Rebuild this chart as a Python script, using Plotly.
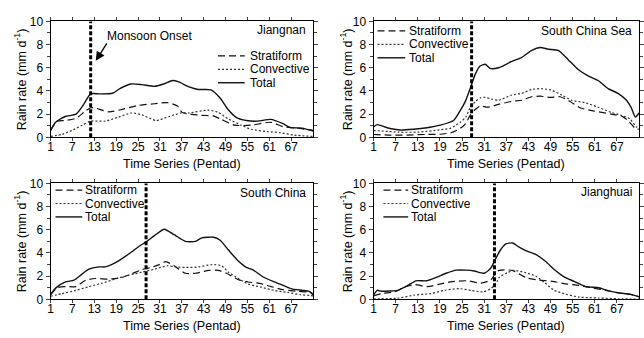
import plotly.graph_objects as go

# ---------------- data ----------------
regions = ["Jiangnan", "South China Sea", "South China", "Jianghuai"]
onset_pentad = [12, 27.6, 27.2, 33.8]

# Jiangnan
jn_tot_x = [1, 2.4, 5, 8, 10, 12, 14.5, 18, 20, 23, 26, 29.5, 32, 34.5, 36, 39, 41.5, 45, 47.5, 49.7, 52, 54.7, 57.8, 61.4, 64.6, 66.8, 70, 73]
jn_tot_y = [0.6, 1.3, 1.8, 2.0, 2.8, 3.75, 3.75, 3.8, 4.2, 4.6, 4.55, 4.4, 4.6, 4.9, 4.8, 4.35, 4.13, 4.1, 3.4, 2.4, 1.7, 1.45, 1.4, 1.55, 1.2, 0.85, 0.8, 0.55]
jn_str_x = [1, 2.8, 5, 8, 10.3, 12, 13, 17, 20.5, 25, 29.5, 33, 35.8, 37.1, 42.5, 45.6, 47.8, 51.5, 56, 61.4, 65, 68.6, 73]
jn_str_y = [0.6, 1.4, 1.45, 1.65, 2.2, 2.55, 2.55, 2.2, 2.4, 2.75, 2.9, 3.0, 2.7, 2.15, 1.9, 1.85, 1.55, 1.05, 1.05, 1.3, 0.9, 0.8, 0.6]
jn_con_x = [1, 4.2, 6.9, 9.7, 12, 16, 19.6, 23.2, 26, 30, 33.5, 36.7, 38.9, 44.3, 47, 49.7, 53.3, 56, 60.5, 64.1, 67.7, 73]
jn_con_y = [0.08, 0.27, 0.6, 1.05, 1.4, 1.4, 1.75, 2.1, 1.95, 1.45, 1.8, 2.1, 2.1, 2.35, 2.15, 1.6, 1.05, 0.7, 0.5, 0.4, 0.2, 0.08]

# South China Sea
scs_tot_x = [1, 2, 4.7, 8.3, 11.9, 15.5, 19.1, 22.7, 24.5, 25.9, 27.2, 28.6, 29.9, 31.3, 32.6, 34.9, 38.5, 41.2, 43.9, 46.2, 48.4, 51.1, 53.8, 56.5, 59.2, 61.9, 64.6, 67.3, 69.6, 70.9, 72, 73]
scs_tot_y = [0.9, 1.1, 0.83, 0.63, 0.7, 0.83, 1.05, 1.45, 2.3, 3.1, 4.2, 5.45, 6.15, 6.3, 5.95, 6.0, 6.55, 6.9, 7.5, 7.75, 7.6, 7.5, 6.7, 5.85, 5.3, 4.9, 4.2, 3.8, 3.2, 2.55, 1.75, 2.1]
scs_str_x = [1, 5, 10, 15, 19, 22, 24.5, 26, 27.2, 28.6, 30, 32, 34.9, 38.5, 41.2, 43.9, 46.2, 48.9, 51.6, 54.3, 57, 60.2, 62.9, 65.5, 68.2, 70, 72, 73]
scs_str_y = [0.25, 0.2, 0.2, 0.25, 0.27, 0.4, 0.77, 1.2, 1.9, 2.4, 2.7, 2.6, 2.85, 3.1, 3.2, 3.5, 3.55, 3.45, 3.5, 3.1, 2.55, 2.3, 2.15, 2.0, 1.85, 1.45, 0.77, 0.7]
scs_con_x = [1, 8, 13, 19, 22, 24.5, 26, 27.2, 28.6, 30, 31.3, 33, 34.9, 38.5, 41.2, 43.9, 46.6, 49.3, 52, 54.7, 58.3, 61.9, 65.5, 68.2, 70.5, 72.3, 73]
scs_con_y = [0.6, 0.45, 0.45, 0.65, 0.8, 1.3, 1.75, 2.55, 3.1, 3.4, 3.45, 3.3, 3.2, 3.65, 3.8, 4.13, 4.2, 4.07, 3.65, 3.2, 3.0, 2.6, 2.15, 1.9, 1.6, 0.9, 0.8]

# South China
sc_tot_x = [1, 2.4, 5.1, 7.4, 9.7, 11.5, 14.2, 16, 18.7, 21, 23.2, 25.4, 27.2, 29.5, 32.2, 34.5, 35.3, 38, 40.7, 42.5, 45.7, 47.5, 49.8, 52.5, 54.7, 56.5, 59.2, 62.4, 65.6, 67.4, 70.1, 71.9, 73]
sc_tot_y = [0.4, 0.97, 1.5, 1.65, 2.2, 2.6, 2.8, 2.8, 3.15, 3.6, 4.08, 4.6, 4.95, 5.5, 6.05, 5.65, 5.5, 5.0, 5.0, 5.3, 5.35, 5.1, 4.25, 3.3, 2.75, 2.55, 1.95, 1.5, 1.1, 0.88, 0.78, 0.69, 0.4]
sc_str_x = [1, 2.8, 5.1, 7.9, 10.6, 13.3, 16.9, 20.4, 23.2, 25.9, 28.6, 30.8, 32.6, 34.9, 38, 40.7, 44.4, 47, 49.2, 52.5, 55.2, 58.3, 61.5, 64.9, 68.7, 72.3, 73]
sc_str_y = [0.4, 1.0, 1.1, 1.1, 1.65, 1.8, 1.75, 1.87, 2.2, 2.55, 2.75, 3.0, 3.25, 2.9, 2.25, 2.25, 2.5, 2.5, 2.25, 1.7, 1.5, 1.38, 1.1, 0.83, 0.69, 0.6, 0.45]
sc_con_x = [1, 4.2, 7.9, 11.5, 15, 18.7, 22.3, 25.9, 29.5, 33.1, 35.3, 38, 41.6, 45.3, 47.9, 49.8, 52.5, 55.2, 58.8, 62.4, 66, 69.6, 72.3, 73]
sc_con_y = [0.27, 0.5, 0.77, 1.1, 1.38, 1.75, 2.07, 2.34, 2.6, 2.9, 2.8, 2.75, 2.8, 3.0, 2.9, 2.34, 1.8, 1.32, 1.05, 0.77, 0.6, 0.4, 0.33, 0.3]

# Jianghuai
jh_tot_x = [1, 2, 3.1, 5.3, 7.6, 10.3, 12.5, 15.3, 18, 20.7, 23.4, 26.1, 28.3, 31, 32.8, 34.2, 35.5, 36.9, 38.7, 40.5, 42.3, 45, 47.7, 50, 52.7, 55.4, 58.5, 62.1, 64.8, 67.5, 70.7, 73]
jh_tot_y = [0.37, 0.78, 0.7, 0.72, 0.78, 1.2, 1.6, 1.6, 1.9, 2.25, 2.52, 2.52, 2.45, 2.25, 2.7, 3.55, 4.3, 4.78, 4.86, 4.5, 4.2, 3.87, 3.26, 2.58, 1.94, 1.55, 1.1, 1.0, 0.73, 0.56, 0.43, 0.23]
jh_str_x = [1, 3.3, 6.7, 9.4, 12.1, 15.7, 19.3, 22.9, 26.5, 30.1, 32.8, 34.2, 35.1, 38.7, 40.5, 42.7, 45.9, 49.5, 53.1, 56.7, 60.3, 63.9, 67.5, 70.7, 73]
jh_str_y = [0.3, 0.5, 0.65, 1.05, 1.28, 1.1, 1.34, 1.55, 1.6, 1.4, 1.67, 2.3, 2.5, 2.5, 2.2, 1.83, 1.67, 1.55, 1.34, 1.2, 1.0, 0.78, 0.56, 0.43, 0.22]
jh_con_x = [1, 7.6, 12.1, 16.6, 20.2, 24.3, 27.4, 30.6, 32.8, 34.6, 35.1, 37.3, 39.1, 42.3, 45, 47.3, 50, 53.1, 56.7, 62.1, 67.5, 73]
jh_con_y = [0.05, 0.1, 0.37, 0.5, 0.78, 0.92, 0.78, 0.65, 0.92, 1.6, 1.9, 2.3, 2.5, 2.3, 2.0, 1.47, 0.78, 0.45, 0.2, 0.12, 0.05, 0.02]

series_names = ["Stratiform", "Convective", "Total"]
x_tickvals = [1, 7, 13, 19, 25, 31, 37, 43, 49, 55, 61, 67]
y_tickvals = [0, 2, 4, 6, 8, 10]

panel_data = [
    [(jn_str_x, jn_str_y), (jn_con_x, jn_con_y), (jn_tot_x, jn_tot_y)],
    [(scs_str_x, scs_str_y), (scs_con_x, scs_con_y), (scs_tot_x, scs_tot_y)],
    [(sc_str_x, sc_str_y), (sc_con_x, sc_con_y), (sc_tot_x, sc_tot_y)],
    [(jh_str_x, jh_str_y), (jh_con_x, jh_con_y), (jh_tot_x, jh_tot_y)],
]

# ---------------- layout helpers ----------------
W, H = 644, 338
def px(x):
    return x / W
def py(y):
    return 1 - y / H

# plot-area boxes in pixels: left, right, top, bottom
boxes = [(48, 313, 15, 136), (374, 642, 15, 136), (48, 313, 184, 305), (374, 642, 184, 305)]

styles = [
    dict(color="#111111", width=1.2, dash="7px,4px"),
    dict(color="#333333", width=1.2, dash="2px,2px"),
    dict(color="#111111", width=1.4, dash="solid"),
]

FONT = "Liberation Sans, Arial, sans-serif"
fig = go.Figure()
layout = dict(
    width=W, height=H, margin=dict(l=0, r=0, t=0, b=0),
    paper_bgcolor="white", plot_bgcolor="white", showlegend=False,
    font=dict(family=FONT, size=12, color="black"),
)
shapes, annotations = [], []

# legend positions (pixels): line x0, line x1, text x, row y list
legend_pos = [
    (217, 244, 248, [51, 65, 79]),
    (378, 406, 409, [25, 39, 53]),
    (53, 80, 82, [191, 205, 219]),
    (384, 409, 411, [191, 205, 219]),
]
region_pos = [(308, 24), (637, 25), (308, 194), (637, 193)]
ytitle_x = [18, 347, 18, 347]

for i in range(4):
    sfx = "" if i == 0 else str(i + 1)
    xa, ya = "x" + sfx, "y" + sfx
    l, r, t, b = boxes[i]
    for j, (xs, ys) in enumerate(panel_data[i]):
        fig.add_trace(go.Scatter(
            x=xs, y=ys, mode="lines", name=series_names[j],
            line=dict(shape="spline", smoothing=0.6, **styles[j]),
            xaxis=xa, yaxis=ya, hoverinfo="skip"))
    layout["xaxis" + sfx] = dict(
        domain=[px(l), px(r)], anchor=ya, range=[1, 73],
        tickvals=x_tickvals, ticks="outside", ticklen=3, tickwidth=1,
        ticklabelstandoff=-5,
        showline=True, linecolor="black", linewidth=1, mirror="ticks",
        showgrid=False, zeroline=False, tickfont=dict(size=12))
    layout["yaxis" + sfx] = dict(
        domain=[py(b), py(t)], anchor=xa, range=[0, 10],
        tickvals=y_tickvals, ticks="outside", ticklen=4, tickwidth=1,
        minor=dict(dtick=1, ticks="outside", ticklen=2.5, tickwidth=1, showgrid=False),
        showline=True, linecolor="black", linewidth=1, mirror="ticks",
        showgrid=False, zeroline=False, tickfont=dict(size=12))
    # onset line
    shapes.append(dict(type="line", xref=xa, yref=ya + " domain",
                       x0=onset_pentad[i], x1=onset_pentad[i], y0=0, y1=1,
                       line=dict(color="black", width=3, dash="4px,2px")))
    # legend
    lx0, lx1, tx, rows = legend_pos[i]
    for j in range(3):
        shapes.append(dict(type="line", xref="paper", yref="paper",
                           x0=px(lx0), x1=px(lx1), y0=py(rows[j]), y1=py(rows[j]),
                           line=styles[j]))
        annotations.append(dict(text=series_names[j], xref="paper", yref="paper",
                                x=px(tx), y=py(rows[j]), xanchor="left", yanchor="middle",
                                height=12, borderpad=0,
                                showarrow=False, font=dict(size=12)))
    # region label
    rx, ry = region_pos[i]
    annotations.append(dict(text=regions[i], xref="paper", yref="paper",
                            x=px(rx), y=py(ry), xanchor="right", yanchor="middle",
                            showarrow=False, font=dict(size=12)))
    # axis titles
    annotations.append(dict(text="Time Series (Pentad)", xref="paper", yref="paper",
                            x=px((l + r) / 2), y=py(b + 28), xanchor="center", yanchor="middle",
                            showarrow=False, font=dict(size=12.5)))
    annotations.append(dict(text="Rain rate (mm d<sup>-1</sup>)", xref="paper", yref="paper",
                            x=px(ytitle_x[i]), y=py((t + b) / 2), xanchor="center", yanchor="middle",
                            textangle=-90, showarrow=False, font=dict(size=12.5)))

# Monsoon onset annotation (panel 1)
annotations.append(dict(text="Monsoon Onset", xref="paper", yref="paper",
                        x=px(103), y=py(30), xanchor="left", yanchor="middle",
                        showarrow=False, font=dict(size=12)))
annotations.append(dict(text="", xref="x", yref="y", x=13.4, y=6.6,
                        ax=12, ay=-19, showarrow=True, arrowhead=2,
                        arrowsize=1.4, arrowwidth=1.3, arrowcolor="black"))

layout["shapes"] = shapes
layout["annotations"] = annotations
fig.update_layout(**layout)
fig.write_html("out.html")
